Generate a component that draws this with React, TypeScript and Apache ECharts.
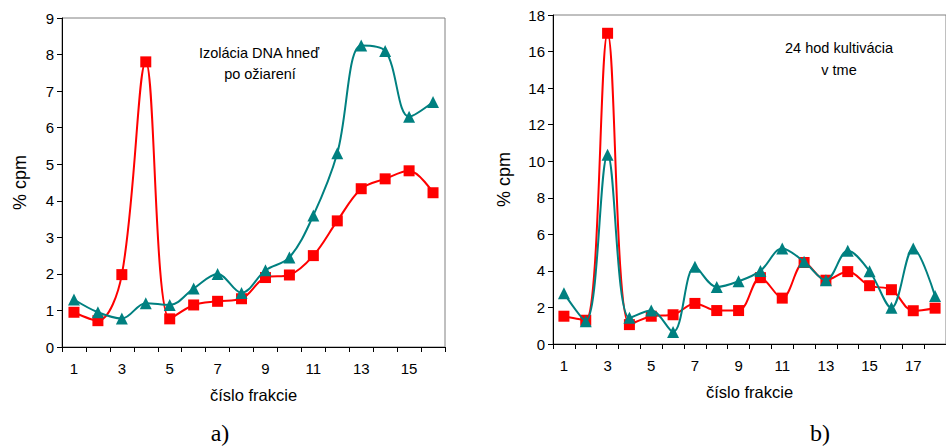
import React, { useEffect, useRef } from "react";
import * as echarts from "echarts";

const catsA = ["1","2","3","4","5","6","7","8","9","10","11","12","13","14","15","16"];
const redA = [0.95, 0.72, 1.98, 7.8, 0.77, 1.15, 1.25, 1.32, 1.9, 1.97, 2.5, 3.45, 4.33, 4.6, 4.82, 4.22];
const tealA = [1.3, 0.95, 0.78, 1.2, 1.15, 1.6, 2.0, 1.48, 2.1, 2.45, 3.6, 5.3, 8.25, 8.1, 6.3, 6.7];

const catsB = ["1","2","3","4","5","6","7","8","9","10","11","12","13","14","15","16","17","18"];
const redB = [1.52, 1.3, 17.0, 1.06, 1.52, 1.6, 2.22, 1.83, 1.83, 3.63, 2.51, 4.46, 3.49, 3.96, 3.19, 2.97, 1.82, 1.96];
const tealB = [2.77, 1.25, 10.35, 1.43, 1.83, 0.66, 4.22, 3.12, 3.43, 4.0, 5.23, 4.5, 3.49, 5.1, 3.98, 1.98, 5.23, 2.62];

const FONT = "Liberation Sans";
const RED = "#FF0000";
const TEAL = "#008080";

export default function App() {
  const ref = useRef<HTMLDivElement>(null);
  useEffect(() => {
    if (!ref.current) return;
    const chart = echarts.init(ref.current, undefined, { renderer: "svg" });
    const xAxisBase = (idx: number, data: string[]) => ({
      type: "category",
      gridIndex: idx,
      data,
      boundaryGap: true,
      name: "číslo frakcie",
      nameLocation: "middle",
      nameGap: 39,
      nameTextStyle: { fontFamily: FONT, fontSize: 16.5, color: "#000" },
      axisLine: { lineStyle: { color: "#000", width: 1 } },
      axisTick: { show: true, length: 5, interval: 0, lineStyle: { color: "#000" } },
      axisLabel: { interval: 1, fontFamily: FONT, fontSize: 15, color: "#000", margin: 14 },
      splitLine: { show: false },
    });
    const yAxisBase = (idx: number, max: number, interval: number, gap: number) => ({
      type: "value",
      gridIndex: idx,
      min: 0,
      max,
      interval,
      name: "% cpm",
      nameLocation: "middle",
      nameGap: gap,
      nameTextStyle: { fontFamily: FONT, fontSize: 18, color: "#000" },
      axisLine: { show: true, lineStyle: { color: "#000", width: 1 } },
      axisTick: { show: true, length: 5, lineStyle: { color: "#000" } },
      axisLabel: { fontFamily: FONT, fontSize: 15, color: "#000", margin: 8 },
      splitLine: { show: false },
    });
    const lineSeries = (name: string, data: number[], idx: number, color: string, symbol: string, size: number) => ({
      type: "line",
      name,
      data,
      xAxisIndex: idx,
      yAxisIndex: idx,
      smooth: 0.35,
      symbol,
      symbolSize: size,
      showSymbol: true,
      lineStyle: { color, width: 2 },
      itemStyle: { color, borderWidth: 0 },
      z: color === RED ? 2 : 3,
    });
    chart.setOption({
      animation: false,
      backgroundColor: "#fff",
      grid: [
        { left: 62, top: 18, width: 383, height: 329, show: true, borderColor: "#808080", borderWidth: 1, containLabel: false },
        { left: 553, top: 15, width: 396, height: 329, show: true, borderColor: "#808080", borderWidth: 1, containLabel: false },
      ],
      xAxis: [xAxisBase(0, catsA), xAxisBase(1, catsB)],
      yAxis: [yAxisBase(0, 9, 1, 33), yAxisBase(1, 18, 2, 40)],
      series: [
        lineSeries("red a", redA, 0, RED, "rect", 11),
        lineSeries("teal a", tealA, 0, TEAL, "triangle", 12),
        lineSeries("red b", redB, 1, RED, "rect", 11),
        lineSeries("teal b", tealB, 1, TEAL, "triangle", 12),
      ],
      graphic: [
        { type: "text", x: 259, y: 53, style: { text: "Izolácia DNA hneď", font: `14.5px '${FONT}'`, fill: "#000", align: "center", verticalAlign: "middle" } },
        { type: "text", x: 260, y: 74, style: { text: "po ožiarení", font: `14.5px '${FONT}'`, fill: "#000", align: "center", verticalAlign: "middle" } },
        { type: "text", x: 839, y: 48, style: { text: "24 hod kultivácia", font: `14.5px '${FONT}'`, fill: "#000", align: "center", verticalAlign: "middle" } },
        { type: "text", x: 839, y: 70, style: { text: "v tme", font: `14.5px '${FONT}'`, fill: "#000", align: "center", verticalAlign: "middle" } },
        { type: "text", x: 220, y: 433, style: { text: "a)", font: "24px 'Liberation Serif'", fill: "#000", align: "center", verticalAlign: "middle" } },
        { type: "text", x: 820, y: 433, style: { text: "b)", font: "24px 'Liberation Serif'", fill: "#000", align: "center", verticalAlign: "middle" } },
      ],
    });
    return () => chart.dispose();
  }, []);
  return (
    <div
      ref={ref}
      style={{ position: "fixed", left: 0, top: 0, width: 946, height: 447, overflow: "hidden" }}
    />
  );
}
